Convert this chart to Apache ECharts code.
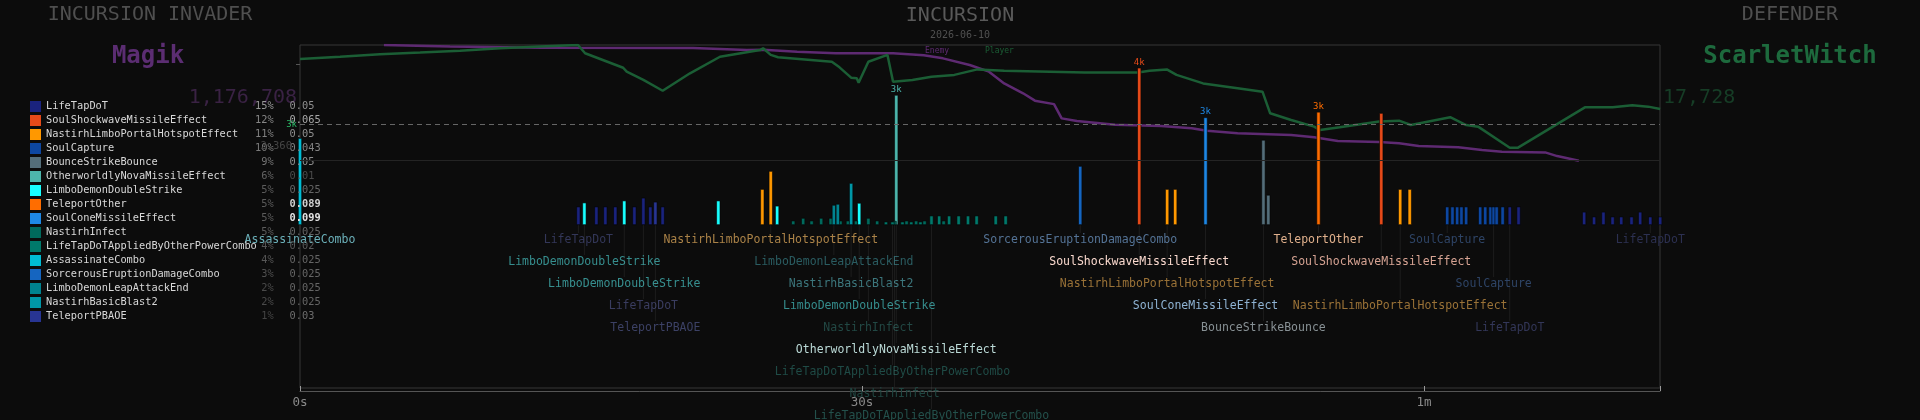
<!DOCTYPE html>
<html>
<head>
<meta charset="utf-8">
<title>Incursion</title>
<script src="https://cdn.jsdelivr.net/npm/echarts@6/dist/echarts.min.js"></script>
<style>
  html, body { margin: 0; padding: 0; background: #0c0c0c; }
  #chart { width: 1920px; height: 420px; }
</style>
</head>
<body>
<div id="chart"></div>
<script>
var MONO = '"DejaVu Sans Mono", "Liberation Mono", monospace';
var BG = '#0c0c0c';

// abilities, in legend order
var abilities = [
  'LifeTapDoT', 'SoulShockwaveMissileEffect', 'NastirhLimboPortalHotspotEffect', 'SoulCapture',
  'BounceStrikeBounce', 'OtherworldlyNovaMissileEffect', 'LimboDemonDoubleStrike', 'TeleportOther',
  'SoulConeMissileEffect', 'NastirhInfect', 'LifeTapDoTAppliedByOtherPowerCombo', 'AssassinateCombo',
  'SorcerousEruptionDamageCombo', 'LimboDemonLeapAttackEnd', 'NastirhBasicBlast2', 'TeleportPBAOE'
];
var abilityColors = [
  '#1a237e', '#e64a19', '#ff9800', '#0d47a1', '#546e7a', '#4db6ac', '#18ffff', '#ff6d00',
  '#1e88e5', '#00695c', '#00796b', '#00bcd4', '#1565c0', '#00838f', '#0097a7', '#283593'
];
var abilityPct = [15, 12, 11, 10, 9, 6, 5, 5, 5, 5, 4, 4, 3, 2, 2, 1];
var abilityRate = ['0.05', '0.065', '0.05', '0.043', '0.05', '0.01', '0.025', '0.089',
  '0.099', '0.025', '0.02', '0.025', '0.025', '0.025', '0.025', '0.03'];

// every hit: time (s), ability index, damage
var hitTime = [0, 14.86, 15.18, 15.82, 16.30, 16.83, 17.31, 17.85, 18.33, 18.70, 18.97, 19.36, 22.33,
  24.68, 25.13, 25.47, 26.33, 26.86, 27.31, 27.82, 28.33, 28.50, 28.71, 28.85, 29.25, 29.42, 29.68,
  29.85, 30.34, 30.81, 31.28, 31.63, 31.74, 31.83, 32.16, 32.38, 32.63, 32.89, 33.12, 33.34, 33.71,
  34.12, 34.36, 34.65, 35.16, 35.66, 36.12, 37.14, 37.67, 41.65, 44.80, 46.29, 46.72, 48.34, 51.43,
  51.69, 54.37, 57.72, 58.73, 59.24, 61.24, 61.52, 61.77, 62.00, 62.25, 63.00, 63.27, 63.55, 63.72,
  63.88, 64.20, 64.58, 65.05, 68.55, 69.08, 69.58, 70.07, 70.53, 71.08, 71.54, 72.08, 72.61];
var hitAbility = [11, 0, 6, 0, 0, 0, 6, 0, 0, 0, 15, 0, 6,
  2, 2, 6, 9, 9, 9, 9, 9, 13, 13, 9, 9, 14, 9,
  6, 9, 9, 10, 10, 9, 5, 10, 9, 10, 9, 10, 9, 10,
  10, 9, 10, 10, 10, 10, 10, 10, 12, 1, 2, 2, 8, 4,
  4, 7, 1, 2, 2, 3, 3, 3, 3, 3, 3, 3, 3, 3,
  3, 3, 0, 0, 0, 0, 0, 0, 0, 0, 0, 0, 0];
var hitDamage = [2600, 550, 670, 550, 550, 550, 730, 550, 815, 550, 695, 550, 730,
  1075, 1615, 575, 130, 210, 130, 210, 210, 600, 630, 130, 130, 1255, 130,
  660, 210, 130, 100, 100, 120, 3890, 100, 130, 100, 130, 100, 130, 280,
  280, 130, 280, 280, 280, 280, 280, 280, 1765, 4705, 1075, 1075, 3220, 2545,
  900, 3385, 3350, 1075, 1075, 550, 550, 550, 550, 550, 550, 550, 550, 550,
  550, 550, 550, 550, 395, 250, 395, 250, 250, 250, 395, 250, 250];
// hits that carry a value tag
var critTime = [31.83, 44.80, 48.34, 54.37];
// reference levels on the damage scale
var damageMark = 3000;
var damageMedian = 2360;

// named hits under the timeline: time, ability index, lane
var labelTime = [0, 14.86, 15.18, 17.31, 18.33, 18.97, 25.13, 28.50, 29.42, 29.85, 30.34, 31.83,
  31.63, 31.74, 33.71, 41.65, 44.80, 46.29, 48.34, 51.43, 54.37, 57.72, 58.73, 61.24, 63.72, 64.58, 72.08];
var labelAbility = [11, 0, 6, 6, 0, 15, 2, 13, 14, 6, 9, 5,
  10, 9, 10, 12, 1, 2, 8, 4, 7, 1, 2, 3, 3, 0, 0];
var labelLane = [0, 0, 1, 2, 3, 4, 0, 1, 2, 3, 4, 5,
  6, 7, 8, 0, 1, 2, 3, 4, 0, 1, 3, 0, 2, 4, 0];

// health, percent of max
var enemyTime = [4.48, 8.01, 12.9, 20.98, 22.42, 23.85, 24.72, 26.54, 28.6, 31.66, 33.3, 34.32, 35.75,
  36.78, 37.59, 38.6, 39.23, 40.25, 40.66, 41.47, 43.51, 45.97, 47.6, 48.42, 50.05, 52.91, 54.14,
  55.4, 57.61, 58.67, 59.72, 61.83, 63.1, 64.16, 66.47, 67.11, 68.27];
var enemyHp = [100, 99.4, 98.8, 98.7, 98.3, 97.8, 97.9, 97.1, 96.4, 96.4, 95.5, 94.2, 91.3,
  88.4, 83.3, 79, 75.8, 74.3, 68.1, 67, 65.3, 64.8, 63.8, 62.7, 61.6, 60.9, 59.9,
  58.3, 57.8, 57.3, 56.1, 55.5, 54.3, 53.6, 53.3, 51.7, 49.7];
var playerTime = [0, 2.14, 4.27, 6.41, 8.54, 10.68, 12.81, 14.84, 15.22, 17.25, 17.44, 18.33, 19.36,
  20.82, 22.42, 24.56, 24.72, 25.13, 25.52, 28.39, 28.8, 29.42, 29.72, 29.82, 30.34, 31.36, 31.66,
  32.69, 33.71, 34.93, 36.16, 37.59, 41.88, 44.74, 45.35, 46.27, 46.79, 48.21, 50.05, 51.38, 51.79,
  52.91, 54.14, 54.45, 55.5, 57.61, 58.67, 59.3, 61.4, 62.25, 62.89, 64.58, 65, 68.59, 70.07,
  71.12, 71.97, 72.61];
var playerHp = [93.9, 94.9, 96, 96.7, 97.5, 98.6, 99.3, 100, 96.4, 90.1, 88.4, 84.8, 80.1,
  87.7, 94.9, 97.8, 98.6, 95.7, 94.7, 92.7, 90.3, 85.8, 85.5, 83.6, 92.7, 95.7, 84,
  84.8, 86.2, 87, 89.4, 88.8, 88, 88, 88.8, 89.4, 87, 83.3, 81.2, 79.7, 70.3,
  67.4, 64.5, 63, 64.2, 66.7, 67.1, 65.2, 68.6, 65.2, 64.5, 55.3, 55.3, 72.9, 72.9,
  73.8, 73.2, 72.2];

var timeTicks = { 0: '0s', 30: '30s', 60: '1m' };

function hex(c) {
  return [parseInt(c.slice(1, 3), 16), parseInt(c.slice(3, 5), 16), parseInt(c.slice(5, 7), 16)];
}
function mix(a, b, w) {
  return [0, 1, 2].map(function (k) { return Math.round(a[k] + (b[k] - a[k]) * w); });
}
function rgb(a) { return 'rgb(' + a.join(',') + ')'; }
function grey(v) { v = Math.max(0, Math.min(230, Math.round(v))); return rgb([v, v, v]); }

// bigger hits get a brighter, whiter name
function labelColor(i, dmg) {
  var f = Math.min(dmg / 4800, 1);
  var c = mix(hex(abilityColors[i]), [255, 255, 255], 0.2 + 0.6 * f);
  return rgb(mix(hex(BG), c, Math.min(1, 0.45 + 0.6 * f)));
}

// monospace columns: name box, then the share right-aligned by padding
var legendRich = { n: { width: 209, color: '#d8d8d8', fontFamily: MONO, fontSize: 10.3, lineHeight: 11 } };
abilities.forEach(function (name, i) {
  var r = parseFloat(abilityRate[i]);
  legendRich['p' + i] = { color: grey(62 + abilityPct[i] * 6),
    fontFamily: MONO, fontSize: 10.3, lineHeight: 11 };
  legendRich['v' + i] = { padding: [0, 0, 0, 16], color: grey(58 + r * 1700),
    fontWeight: r > 0.08 ? 'bold' : 'normal', fontFamily: MONO, fontSize: 10.3, lineHeight: 11 };
});

var barSeries = abilities.map(function (name, i) {
  var data = [];
  hitTime.forEach(function (t, k) {
    if (hitAbility[k] !== i) return;
    var item = { value: [t, hitDamage[k]] };
    if (critTime.indexOf(t) >= 0) {
      item.label = { show: true };
    }
    data.push(item);
  });
  return {
    name: name,
    type: 'bar',
    xAxisIndex: 0,
    yAxisIndex: 1,
    barWidth: 4,
    barGap: '-100%',
    clip: false,
    z: 3,
    itemStyle: { color: abilityColors[i], borderColor: '#050505', borderWidth: 0.6 },
    label: {
      show: false, position: 'top', distance: 1, color: abilityColors[i],
      fontFamily: MONO, fontSize: 9,
      formatter: function (p) { return Math.floor(p.value[1] / 1000) + 'k'; }
    },
    data: data
  };
});

// reference levels drawn on the damage scale
barSeries[0].markLine = {
  silent: true,
  symbol: 'none',
  data: [
    { yAxis: damageMark, lineStyle: { color: '#666', type: [5, 4], width: 1 },
      label: { position: 'start', distance: 3, color: '#2bb665', fontFamily: MONO, fontSize: 9,
        formatter: Math.round(damageMark / 1000) + 'k' } },
    { yAxis: damageMedian, lineStyle: { color: 'rgba(0,0,0,0)', width: 0 },
      label: { position: 'start', distance: 8, color: '#454545', fontFamily: MONO, fontSize: 10.5,
        formatter: damageMedian.toLocaleString('en-US') } }
  ]
};

var LANE_BASE = -0.68; // bar baseline expressed on the lane axis
var labelData = labelTime.map(function (t, k) {
  var dmg = 0;
  hitTime.forEach(function (ht, j) {
    if (ht === t && hitAbility[j] === labelAbility[k]) dmg = hitDamage[j];
  });
  return [t, labelLane[k], labelAbility[k], dmg];
});

var chart = echarts.init(document.getElementById('chart'));
chart.setOption({
  backgroundColor: BG,
  animation: false,
  grid: { left: 300, right: 260, top: 45, bottom: 32, show: true, borderColor: '#363636', borderWidth: 1 },
  legend: {
    data: abilities,
    orient: 'vertical',
    left: 30,
    top: 101,
    padding: 0,
    itemWidth: 11,
    itemHeight: 11,
    itemGap: 3,
    icon: 'rect',
    itemStyle: { borderWidth: 0 },
    selectedMode: false,
    textStyle: { fontFamily: MONO, fontSize: 10.3, color: '#d8d8d8', rich: legendRich },
    formatter: function (name) {
      var i = abilities.indexOf(name);
      var pct = (abilityPct[i] + '%');
      while (pct.length < 3) pct = ' ' + pct;
      return '{n|' + name + '}{p' + i + '|' + pct + '}{v' + i + '|' + abilityRate[i] + '}';
    }
  },
  graphic: [
    { type: 'text', x: 150, y: 15, style: { text: 'INCURSION INVADER', align: 'center', verticalAlign: 'middle', fill: '#4f4f4f', font: '20px ' + MONO } },
    { type: 'text', x: 148, y: 57, style: { text: 'Magik', align: 'center', verticalAlign: 'middle', fill: '#5b2d72', font: 'bold 24px ' + MONO } },
    { type: 'text', x: 297, y: 98, style: { text: '1,176,708', align: 'right', verticalAlign: 'middle', fill: '#3a2244', font: '20px ' + MONO } },
    { type: 'text', x: 960, y: 16, style: { text: 'INCURSION', align: 'center', verticalAlign: 'middle', fill: '#595959', font: '20px ' + MONO } },
    { type: 'text', x: 960, y: 35, style: { text: '2026-06-10', align: 'center', verticalAlign: 'middle', fill: '#505050', font: '10px ' + MONO } },
    { type: 'text', x: 925, y: 51, style: { text: 'Enemy', align: 'left', verticalAlign: 'middle', fill: '#5e2a72', font: '8px ' + MONO } },
    { type: 'text', x: 985, y: 51, style: { text: 'Player', align: 'left', verticalAlign: 'middle', fill: '#1b5e35', font: '8px ' + MONO } },
    { type: 'text', x: 1790, y: 15, style: { text: 'DEFENDER', align: 'center', verticalAlign: 'middle', fill: '#4f4f4f', font: '20px ' + MONO } },
    { type: 'text', x: 1790, y: 57, style: { text: 'ScarletWitch', align: 'center', verticalAlign: 'middle', fill: '#1d6a3d', font: 'bold 24px ' + MONO } },
    { type: 'text', x: 1663, y: 98, style: { text: '17,728', align: 'left', verticalAlign: 'middle', fill: '#163d26', font: '20px ' + MONO } }
  ],
  xAxis: {
    type: 'value',
    min: 0,
    max: 72.6,
    interval: 30,
    offset: 3,
    axisLine: { onZero: false, lineStyle: { color: '#555' } },
    axisTick: { inside: true, length: 5, lineStyle: { color: '#999' } },
    axisLabel: {
      color: '#8a8a8a', fontFamily: MONO, fontSize: 12.5, margin: 5,
      formatter: function (v) { return timeTicks[v] || ''; }
    },
    splitLine: { show: false }
  },
  yAxis: [
    // health percent: 100 at the top, 50 at the solid rule
    { type: 'value', min: -49.13, max: 100, show: false, splitLine: { show: false } },
    // hit damage: baseline 180px below the top
    {
      type: 'value', min: -4876, max: 5384, position: 'left',
      axisLine: { show: false },
      axisTick: { show: true, length: 4, lineStyle: { color: '#555' }, customValues: [4800] },
      axisLabel: { show: false },
      splitLine: { show: false }
    },
    // label lanes, top to bottom
    { type: 'value', min: -8.8636, max: 6.7273, inverse: true, show: false, splitLine: { show: false } }
  ],
  series: [
    {
      name: 'Enemy',
      type: 'line',
      yAxisIndex: 0,
      showSymbol: false,
      z: 2,
      lineStyle: { color: '#5e2a72', width: 2.5 },
      data: enemyTime.map(function (t, i) { return [t, enemyHp[i]]; })
    },
    {
      name: 'Player',
      type: 'line',
      yAxisIndex: 0,
      showSymbol: false,
      z: 2,
      lineStyle: { color: '#1b5e35', width: 2.5 },
      data: playerTime.map(function (t, i) { return [t, playerHp[i]]; }),
      markLine: {
        silent: true,
        symbol: 'none',
        label: { show: false },
        data: [
          { yAxis: 50, lineStyle: { color: '#242424', type: 'solid', width: 1 } }
        ]
      }
    },
    {
      name: 'names',
      type: 'custom',
      xAxisIndex: 0,
      yAxisIndex: 2,
      clip: false,
      z: 1,
      silent: true,
      data: labelData,
      renderItem: function (params, api) {
        var t = api.value(0), lane = api.value(1), i = api.value(2), dmg = api.value(3);
        var base = api.coord([t, LANE_BASE]);
        var at = api.coord([t, lane]);
        return {
          type: 'group',
          children: [
            { type: 'line', shape: { x1: base[0], y1: base[1], x2: at[0], y2: at[1] - 7 },
              style: { stroke: 'rgba(255,255,255,0.07)', lineWidth: 1 } },
            { type: 'text', x: at[0], y: at[1],
              style: { text: abilities[i], align: 'center', verticalAlign: 'middle',
                fill: labelColor(i, dmg), font: '11.5px ' + MONO } }
          ]
        };
      }
    }
  ].concat(barSeries)
});
</script>
</body>
</html>
